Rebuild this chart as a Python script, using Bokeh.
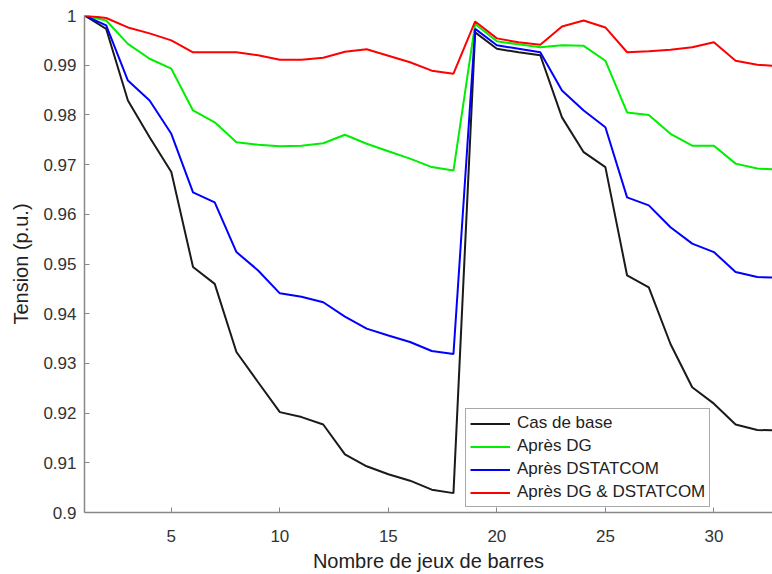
from bokeh.plotting import figure
from bokeh.models import FixedTicker, CustomJSTickFormatter, Range1d, Legend, LegendItem
from bokeh.embed import file_html
from bokeh.resources import INLINE

buses = list(range(1, 34))

cas_de_base = [1.0, 0.9973, 0.9829, 0.9755, 0.9685, 0.9494, 0.946, 0.9323, 0.9262, 0.9202,
               0.9192, 0.9177, 0.9117, 0.9093, 0.9077, 0.9064, 0.9046, 0.9039, 0.9966, 0.9933,
               0.9926, 0.992, 0.9795, 0.9725, 0.9695, 0.9477, 0.9453, 0.9339, 0.9252, 0.9219,
               0.9177, 0.9166, 0.9165]

apres_dg = [1.0, 0.999, 0.9943, 0.9913, 0.9893, 0.9809, 0.9785, 0.9745, 0.974, 0.9737,
            0.9738, 0.9743, 0.976, 0.9742, 0.9727, 0.9712, 0.9695, 0.9688, 0.9983, 0.9948,
            0.9942, 0.9936, 0.994, 0.9939, 0.9909, 0.9805, 0.98, 0.9762, 0.9738, 0.9738,
            0.9702, 0.9692, 0.969]

apres_dstatcom = [1.0, 0.998, 0.9869, 0.9829, 0.9762, 0.9644, 0.9624, 0.9524, 0.9487, 0.9441,
                  0.9434, 0.9423, 0.9394, 0.937, 0.9356, 0.9343, 0.9325, 0.9319, 0.9973, 0.994,
                  0.9933, 0.9926, 0.9849, 0.9809, 0.9775, 0.9634, 0.9618, 0.9574, 0.9541, 0.9524,
                  0.9484, 0.9474, 0.9472]

apres_dg_dstatcom = [1.0, 0.9995, 0.9976, 0.9964, 0.995, 0.9926, 0.9926, 0.9926, 0.992, 0.9911,
                     0.9911, 0.9915, 0.9927, 0.9932, 0.9919, 0.9906, 0.9889, 0.9883, 0.9988, 0.9954,
                     0.9946, 0.9941, 0.9978, 0.999, 0.9976, 0.9926, 0.9928, 0.9931, 0.9936, 0.9946,
                     0.9909, 0.9901, 0.9898]

series_names = ["Cas de base", "Après DG", "Après DSTATCOM", "Après DG & DSTATCOM"]
series_colors = ["#1a1a1a", "#00ee00", "#0000ff", "#ff0000"]
series_values = [cas_de_base, apres_dg, apres_dstatcom, apres_dg_dstatcom]

x_ticks = [5, 10, 15, 20, 25, 30]
y_ticks = [0.9, 0.91, 0.92, 0.93, 0.94, 0.95, 0.96, 0.97, 0.98, 0.99, 1.0]

FONT = "Liberation Sans"

p = figure(width=772, height=574, output_backend="svg", toolbar_location=None,
           x_range=Range1d(1, 32.7), y_range=Range1d(0.9, 1.0),
           min_border_left=84, min_border_right=0, min_border_top=15, min_border_bottom=62)

p.outline_line_color = None
p.xgrid.grid_line_color = None
p.ygrid.grid_line_color = None
p.background_fill_color = "white"
p.border_fill_color = "white"

items = []
for name, color, vals in zip(series_names, series_colors, series_values):
    r = p.line(buses, vals, line_color=color, line_width=2)
    items.append(LegendItem(label=name, renderers=[r]))

for ax in (p.xaxis[0], p.yaxis[0]):
    ax.axis_line_color = "#888888"
    ax.axis_line_width = 1.5
    ax.major_tick_line_color = "#888888"
    ax.major_tick_line_width = 1
    ax.major_tick_in = 5
    ax.major_tick_out = 0
    ax.minor_tick_line_color = None
    ax.major_label_text_font = FONT
    ax.major_label_text_font_size = "17px"
    ax.major_label_text_color = "#333333"
    ax.axis_label_text_font = FONT
    ax.axis_label_text_font_size = "20px"
    ax.axis_label_text_font_style = "normal"
    ax.axis_label_text_color = "#222222"

p.xaxis[0].ticker = FixedTicker(ticks=x_ticks)
p.yaxis[0].ticker = FixedTicker(ticks=y_ticks)
p.yaxis[0].formatter = CustomJSTickFormatter(code="return (Math.round(tick*100)/100).toString();")
p.xaxis[0].major_label_standoff = 17
p.yaxis[0].major_label_standoff = 8
p.xaxis[0].axis_label = "Nombre de jeux de barres"
p.yaxis[0].axis_label = "Tension (p.u.)"
p.xaxis[0].axis_label_standoff = 5
p.yaxis[0].axis_label_standoff = 8

legend = Legend(items=items, location=(381, 5))
legend.border_line_color = "#555555"
legend.border_line_width = 1
legend.background_fill_color = "white"
legend.background_fill_alpha = 1
legend.label_text_font = FONT
legend.label_text_font_size = "17px"
legend.label_text_color = "#222222"
legend.glyph_width = 40
legend.glyph_height = 19
legend.label_height = 19
legend.spacing = 3
legend.padding = 4
legend.margin = 0
legend.label_standoff = 7
p.add_layout(legend, "center")

open("out.html", "w").write(file_html(p, INLINE))
